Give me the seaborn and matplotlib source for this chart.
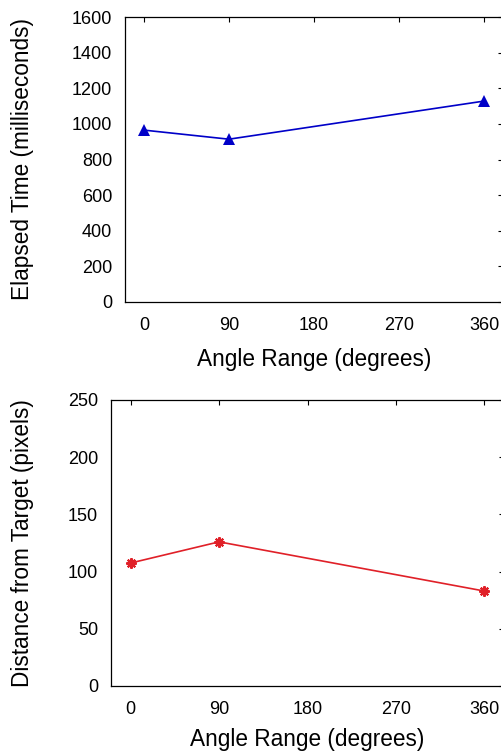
import matplotlib
matplotlib.use("Agg")
import matplotlib.pyplot as plt
import seaborn as sns
import pandas as pd

# Data
angles = [0, 90, 360]
elapsed_ms = [965, 914, 1128]
distance_px = [107.5, 126, 83]
x_ticks = [0, 90, 180, 270, 360]
y1_ticks = [0, 200, 400, 600, 800, 1000, 1200, 1400, 1600]
y2_ticks = [0, 50, 100, 150, 200, 250]

sns.set_theme(style="white")
plt.rcParams['font.family'] = ['Liberation Sans', 'DejaVu Sans']

W, H = 501, 754
fig = plt.figure(figsize=(W / 100, H / 100), dpi=100)

ax1 = fig.add_axes([125 / W, 1 - 302 / H, (503 - 125) / W, (302 - 17) / H])
ax2 = fig.add_axes([111 / W, 1 - 686 / H, (504 - 111) / W, (686 - 400) / H])

df1 = pd.DataFrame({"angle": angles, "val": elapsed_ms})
df2 = pd.DataFrame({"angle": angles, "val": distance_px})

sns.lineplot(data=df1, x="angle", y="val", ax=ax1, color="#0000c8",
             marker="^", markersize=8.5, markeredgewidth=0, linewidth=1.2)
sns.lineplot(data=df2, x="angle", y="val", ax=ax2, color="#e02028",
             marker=(8, 2, 0), markersize=7.5, markeredgewidth=1.5,
             markeredgecolor="#e02028", linewidth=1.2)

tick_fs = 13
label_fs = 16.3

for ax, yt, ylab, xlab_y, ylab_x in [
    (ax1, y1_ticks, "Elapsed Time (milliseconds)", -0.161, (34 - 125) / 378),
    (ax2, y2_ticks, "Distance from Target (pixels)", -0.147, (34 - 111) / 393),
]:
    ax.set_xlim(-20, 380)
    ax.set_ylim(yt[0], yt[-1])
    ax.set_xticks(x_ticks)
    ax.set_yticks(yt)
    ax.set_xticklabels([str(t) for t in x_ticks], fontsize=tick_fs)
    ax.set_yticklabels([str(t) for t in yt], fontsize=tick_fs)
    ax.tick_params(direction="in", top=True, right=True, length=3.6,
                   width=0.8, color="black", labelcolor="black")
    ax.tick_params(axis="x", pad=10.5)
    ax.tick_params(axis="y", pad=9.2)
    for s in ax.spines.values():
        s.set_color("black")
        s.set_linewidth(0.9)
    ax.set_xlabel("Angle Range (degrees)", fontsize=label_fs, color="black")
    ax.set_ylabel(ylab, fontsize=label_fs, color="black")
    ax.xaxis.set_label_coords(0.5, xlab_y)
    ax.yaxis.set_label_coords(ylab_x, 0.5)
    ax.grid(False)

fig.savefig("out.png", dpi=100)
